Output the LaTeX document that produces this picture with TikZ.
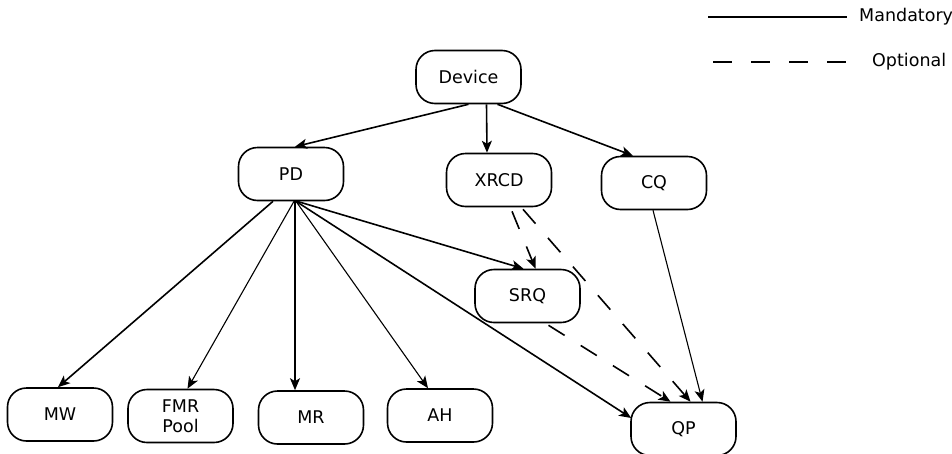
\documentclass[tikz,border=0pt]{standalone}
\usepackage{fontspec}
\setmainfont{DejaVu Sans}
\usetikzlibrary{arrows.meta,calc}
\begin{document}
\begin{tikzpicture}[x=1pt,y=-1pt,
  box/.style={draw,line width=1.6pt,rounded corners=19pt,minimum width=105pt,minimum height=53pt,
    inner sep=0pt,font=\fontsize{17.5}{20.5}\selectfont,align=center,text=black},
  arr/.style={line width=1.6pt,-{Stealth[length=12pt,width=10pt,inset=3pt]}},
  thinarr/.style={line width=1.1pt,-{Stealth[length=12pt,width=10pt,inset=3pt]}},
  opt/.style={arr,dash pattern=on 19pt off 19pt},
  legtext/.style={font=\fontsize{17.5}{20.5}\selectfont,anchor=west,inner sep=0pt,text=black}]
\useasboundingbox (0,0) rectangle (952,453);
% nodes
\node[box] (Device) at (468.5,77) {Device};
\node[box] (PD) at (291,174) {PD};
\node[box] (XRCD) at (499,180) {XRCD};
\node[box] (CQ) at (654,183) {CQ};
\node[box] (SRQ) at (527.5,296) {SRQ};
\node[box] (QP) at (683.5,429) {QP};
\node[box] (MW) at (60,414.5) {MW};
\node[box] (FMR) at (180.5,416) {FMR\\Pool};
\node[box] (MR) at (311,417.5) {MR};
\node[box] (AH) at (440,415.5) {AH};
% mandatory edges
\draw[arr] (Device.south) -- ($(PD.north)+(4,0)$);
\draw[arr] ($(Device.south)+(18,0)$) -- ($(XRCD.north)+(-12,0)$);
\draw[arr] ($(Device.south)+(29,0)$) -- ($(CQ.north)+(-21,0)$);
\draw[arr] ($(PD.south)+(-18,0)$) -- ($(MW.north)+(-2,0)$);
\draw[thinarr] ($(PD.south)+(3,0)$) -- ($(FMR.north)+(7,0)$);
\draw[arr] ($(PD.south)+(4,0)$) -- ($(MR.north)+(-16,0)$);
\draw[thinarr] ($(PD.south)+(5,0)$) -- ($(AH.north)+(-12,0)$);
\draw[arr] ($(PD.south)+(6,0)$) -- ($(SRQ.north)+(-4,0)$);
\draw[arr] ($(PD.south)+(5,0)$) -- ($(QP.west)+(1,-11)$);
\draw[thinarr] ($(CQ.south)+(-1,0)$) -- ($(QP.north)+(19,0)$);
% optional edges
\draw[opt] ($(XRCD.south)+(13,4)$) -- ($(SRQ.north)+(8,0)$);
\draw[opt] ($(XRCD.south)+(24,2)$) -- ($(QP.north)+(7,0)$);
\draw[opt] ($(SRQ.south)+(21,2)$) -- ($(QP.north)+(-13,0)$);
% legend
\coordinate (m1) at (708,17);
\coordinate (m2) at (847,17);
\coordinate (o1) at (713,62);
\coordinate (o2) at (846,62);
\draw[line width=1.6pt] (m1) -- (m2);
\draw[line width=1.6pt,dash pattern=on 19pt off 19pt] (o1) -- (o2);
\node[legtext] (mand) at (859,17) {Mandatory};
\node[legtext] (optl) at (872,62) {Optional};
\end{tikzpicture}
\end{document}
